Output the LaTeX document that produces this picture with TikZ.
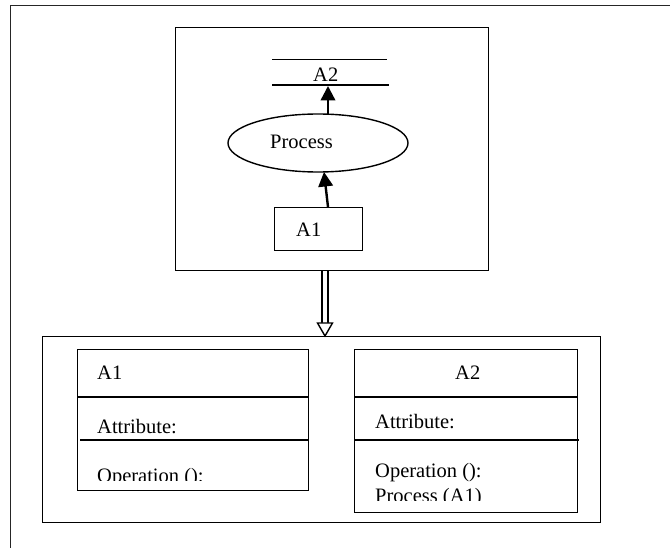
\documentclass[tikz,border=0pt]{standalone}
\usepackage{fontspec}
\setmainfont{Liberation Serif}
\usetikzlibrary{arrows.meta,shapes.geometric}
\begin{document}
\begin{tikzpicture}[x=1pt,y=-1pt,
  thin/.style={line width=1.4pt},
  txt/.style={anchor=base west,inner sep=0pt,font=\fontsize{20.5}{24}\selectfont},
  box/.style={draw,line width=1.4pt,inner sep=0pt,anchor=north west},
  flow/.style={line width=2.4pt,-{Triangle[length=14.5pt,width=14.5pt]}}]
\path[use as bounding box] (0,0) rectangle (670,548);

% page frame
\draw[thin,black!85] (10.5,548) -- (10.5,5.5) -- (670,5.5);

% process view
\node[box,minimum width=313pt,minimum height=243pt] (view) at (175,27) {};
\node[inner sep=0pt,minimum width=114pt,minimum height=25pt] (store) at (329.5,72.5) {};
\draw[thin] (store.north west) -- (store.north east);
\draw[thin] (store.south west) -- ([xshift=2pt]store.south east);
\node[txt] (storelbl) at (313,82) {A2};
\node[draw,thin,ellipse,inner sep=0pt,minimum width=180pt,minimum height=58pt] (proc) at (318,143) {};
\node[txt] (proclbl) at (270,149) {Process};
\node[box,minimum width=88pt,minimum height=43pt] (src) at (274,207) {};
\node[txt] (srclbl) at (296,237) {A1};

\coordinate (ptop) at (328,114.3);
\coordinate (pbot) at (324,172);
\coordinate (srctop) at (328,207);
\coordinate (storebot) at (328,86);
\draw[flow] (srctop) -- (pbot);
\draw[flow] (ptop) -- (storebot);

% class view
\node[box,minimum width=558.5pt,minimum height=186pt] (classes) at (41.5,336) {};

% refinement arrow (double shaft, open head)
\coordinate (ra) at (view.south -| 325,0);
\coordinate (rb) at (classes.north -| 325,0);
\draw[thin] ([xshift=-3pt]ra) -- ([xshift=-3pt,yshift=13pt]rb);
\draw[thin] ([xshift=3pt]ra) -- ([xshift=3pt,yshift=13pt]rb);
\draw[thin,fill=white,line join=miter] ([xshift=-7.5pt,yshift=13pt]rb) -- ([xshift=7.5pt,yshift=13pt]rb) -- (rb) -- cycle;

% class A1
\node[box,minimum width=231pt,minimum height=141pt] (ca) at (77,349) {};
\draw[thin] (77,397) -- (308,397);
\draw[thin] (80,440) -- (309,440);
\node[txt] (caname) at (97,379) {A1};
\node[txt] (caattr) at (97,433) {Attribute:};
\begin{scope}
  \clip (80,455) rectangle (306,480);
  \node[txt] (caop) at (97,482) {Operation ():};
\end{scope}

% class A2
\node[box,minimum width=223pt,minimum height=163pt] (cb) at (354,349) {};
\draw[thin] (354,397) -- (577,397);
\draw[thin] (354,440) -- (579,440);
\node[txt] (cbname) at (455,379) {A2};
\node[txt] (cbattr) at (375,428) {Attribute:};
\node[txt] (cbop) at (375,477) {Operation ():};
\begin{scope}
  \clip (357,482) rectangle (574,500);
  \node[txt] (cbproc) at (375,502) {Process (A1)};
\end{scope}
\end{tikzpicture}
\end{document}
